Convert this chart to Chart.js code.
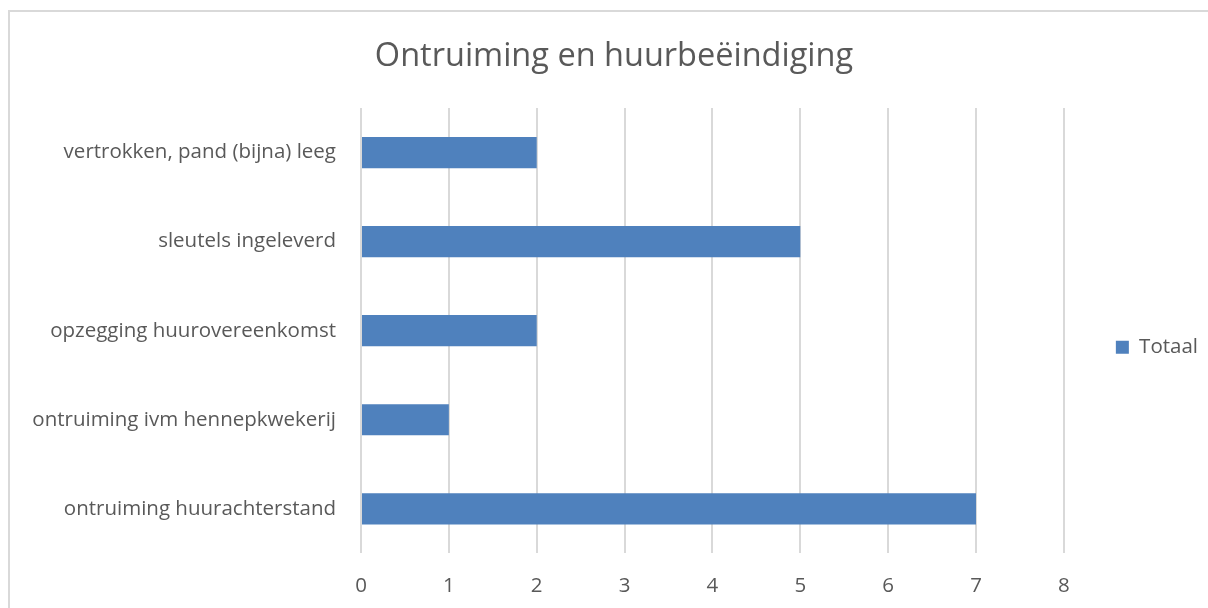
<!DOCTYPE html>
<html>
<head>
<meta charset="utf-8">
<script src="https://cdn.jsdelivr.net/npm/chart.js@4/dist/chart.umd.min.js"></script>
<style>
  html, body { margin: 0; padding: 0; background: #fff; overflow: hidden; }
  #frame { position: absolute; left: 8px; top: 10px; width: 1300px; height: 700px;
           border-left: 2px solid #d9d9d9; border-top: 2px solid #d9d9d9; }
  #wrap { position: absolute; left: 0; top: 0; width: 1208px; height: 608px; }
</style>
</head>
<body>
<div id="frame"></div>
<div id="wrap"><canvas id="ontruimingChart"></canvas></div>
<script>
// Ontruiming en huurbeëindiging
const categorieen = [
  'vertrokken, pand (bijna) leeg',
  'sleutels ingeleverd',
  'opzegging huurovereenkomst',
  'ontruiming ivm hennepkwekerij',
  'ontruiming huurachterstand'
];
const totaal = [2, 5, 2, 1, 7];
const xTicks = [0, 1, 2, 3, 4, 5, 6, 7, 8];

const grijs = '#595959';
const font = 'Open Sans';

new Chart(document.getElementById('ontruimingChart'), {
  type: 'bar',
  data: {
    labels: categorieen,
    datasets: [{
      label: 'Totaal',
      data: totaal,
      backgroundColor: '#4f81bd',
      categoryPercentage: 1,
      barPercentage: 0.35
    }]
  },
  options: {
    indexAxis: 'y',
    responsive: true,
    maintainAspectRatio: false,
    animation: false,
    layout: { padding: { left: 20, right: 0, top: 10, bottom: -10 } },
    plugins: {
      title: {
        display: true,
        text: 'Ontruiming en huurbeëindiging',
        color: grijs,
        font: { family: font, size: 32.5, weight: 'normal' },
        padding: { top: 27, bottom: 32 }
      },
      legend: {
        position: 'right',
        // lege titel om het item wat lager te zetten
        title: { display: true, text: '', padding: 26 },
        labels: {
          color: grijs,
          font: { family: font, size: 20.5 },
          boxWidth: 13,
          boxHeight: 13,
          padding: 52
        }
      },
      tooltip: { enabled: false }
    },
    scales: {
      x: {
        min: 0,
        max: 8,
        afterBuildTicks: s => { s.ticks = xTicks.map(v => ({ value: v })); },
        grid: { color: '#d9d9d9', lineWidth: 2, drawTicks: false },
        border: { display: false },
        ticks: { color: grijs, font: { family: font, size: 20.5 }, padding: 20 }
      },
      y: {
        grid: { display: false, drawTicks: false },
        border: { display: false },
        ticks: { color: grijs, font: { family: font, size: 20.5 }, padding: 25 },
        afterFit: s => { s.width = 341; }
      }
    }
  }
});
</script>
</body>
</html>
